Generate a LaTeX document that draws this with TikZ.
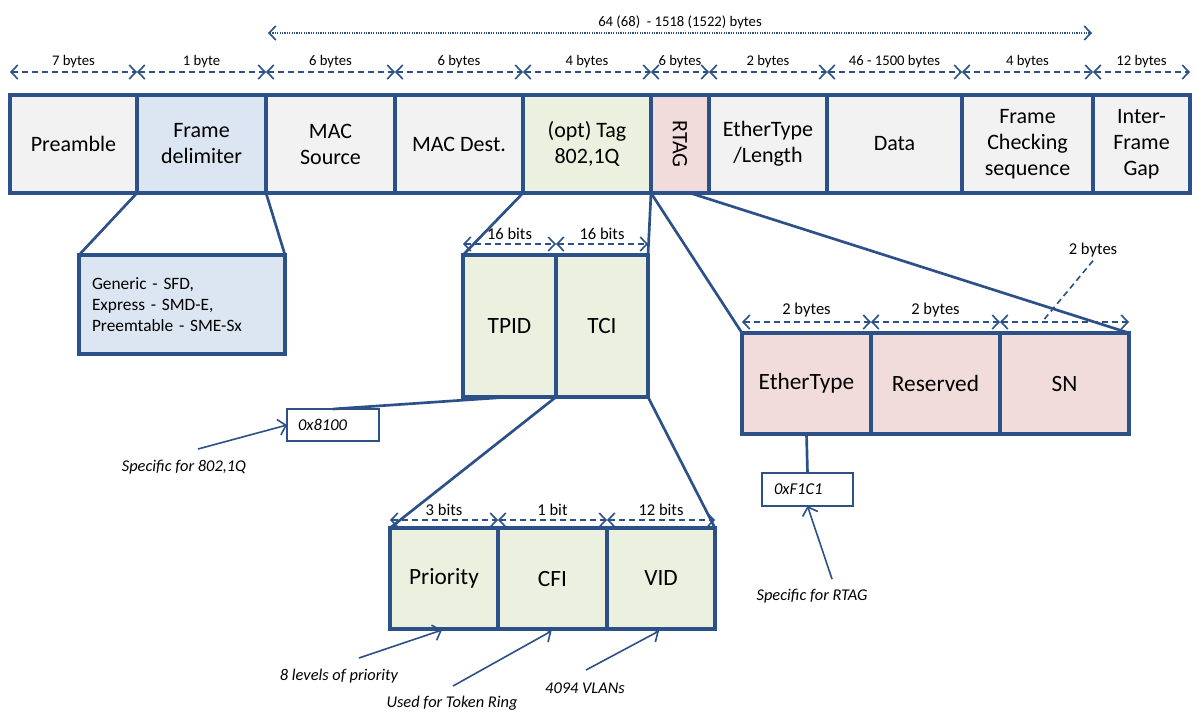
\documentclass[tikz,border=0pt]{standalone}
\usepackage{fontspec}
\usepackage{graphicx}
\setmainfont{Carlito}
\usetikzlibrary{arrows.meta,calc}
\definecolor{ln}{HTML}{2C5088}
\definecolor{cgray}{HTML}{F2F2F2}
\definecolor{cblue}{HTML}{DCE6F2}
\definecolor{cgreen}{HTML}{EBF1DE}
\definecolor{cpink}{HTML}{F2DCDB}
\begin{document}
\begin{tikzpicture}[x=0.75pt,y=-0.75pt,
  bx/.style 2 args={draw=ln, line width=2.3pt, minimum width=#1*0.75pt, minimum height=#2*0.75pt, inner sep=0pt, outer sep=0pt, align=center},
  mainlbl/.style={font=\fontsize{16.5}{19.5}\selectfont},
  sublbl/.style={font=\fontsize{17.5}{20}\selectfont},
  link/.style={draw=ln, line width=2pt},
  barb/.tip={Straight Barb[length=5pt,width=10.5pt,line width=1.2pt]},
  dimarr/.style={draw=ln, line width=1.2pt, dash pattern=on 4.5pt off 3pt, barb-barb},
  bigarr/.style={draw=ln, line width=1.1pt, dash pattern=on 0.9pt off 0.9pt, barb-barb},
  toplbl/.style={font=\fontsize{11}{13}\selectfont, inner sep=2.5pt},
  sublb/.style={font=\fontsize{12.4}{14}\selectfont, inner sep=2.5pt},
  note/.style={font=\fontsize{12.3}{14}\selectfont\itshape, inner sep=0pt},
  lead/.style={draw=ln, line width=1.2pt, -{Straight Barb[length=5.5pt,width=12pt,line width=1.2pt]}},
  valbox/.style 2 args={draw=ln, line width=1.1pt, minimum width=#1*0.75pt, minimum height=#2*0.75pt, inner sep=0pt, outer sep=0pt, font=\fontsize{12.4}{14}\selectfont\itshape},
]
\fill[white] (0,0) rectangle (1202,715);
\useasboundingbox (0,0) rectangle (1202,715);

% main frame row
\node[bx={127}{98}, fill=cgray, mainlbl] (pre) at (73.5,144) {Preamble};
\node[bx={129}{98}, fill=cblue, mainlbl] (sfd) at (201.5,144) {Frame\\delimiter};
\node[bx={129}{98}, fill=cgray, mainlbl] (src) at (330.5,144) {MAC\\Source};
\node[bx={128}{98}, fill=cgray, mainlbl] (dst) at (459,144) {MAC Dest.};
\node[bx={128}{98}, fill=cgreen, mainlbl] (tag) at (587,144) {(opt) Tag\\802,1Q};
\node[bx={58}{98}, fill=cpink, mainlbl] (rtag) at (680,144) {\rotatebox{-90}{RTAG}};
\node[bx={118}{98}, fill=cgray, mainlbl] (etl) at (768,144) {EtherType\\/Length};
\node[bx={135}{98}, fill=cgray, mainlbl] (data) at (894.5,144) {Data};
\node[bx={131}{98}, fill=cgray, mainlbl] (fcs) at (1027.5,144) {Frame\\Checking\\sequence};
\node[bx={97}{98}, fill=cgray, mainlbl] (ifg) at (1141.5,144) {Inter-\\Frame\\Gap};

% top dimension arrows
\foreach \n/\t in {pre/7 bytes, sfd/1 byte, src/6 bytes, dst/6 bytes, tag/4 bytes, rtag/6 bytes, etl/2 bytes, data/46 - 1500 bytes, fcs/4 bytes, ifg/12 bytes}{
  \draw[dimarr] ($(\n.north west)+(0,-23)$) -- ($(\n.north east)+(0,-23)$) node[midway, above, toplbl] {\t};
}
\draw[bigarr] ($(src.north west)+(2,-62)$) -- ($(fcs.north east)+(-1,-62)$) node[midway, above, toplbl] {64 (68)~ - 1518 (1522) bytes};

% frame delimiter detail
\node[bx={206}{99}, fill=cblue, line width=3pt, font=\fontsize{13}{15.75}\selectfont, align=left, text width=180*0.75pt] (sfdd) at (182,304.5) {Generic - SFD,\\Express - SMD-E,\\Preemtable - SME-Sx};
\draw[link] (sfd.south west) -- (sfdd.north west);
\draw[link] (sfd.south east) -- (sfdd.north east);

% 802.1Q tag detail
\node[bx={93}{142}, fill=cgreen, sublbl] (tpid) at (509.5,326) {TPID};
\node[bx={92}{142}, fill=cgreen, sublbl] (tci) at (602,326) {TCI};
\draw[link] (tag.south west) -- (tpid.north west);
\draw[link] (tag.south east) -- (tci.north east);
\foreach \n in {tpid, tci}{
  \draw[dimarr] ($(\n.north west)+(0,-11)$) -- ($(\n.north east)+(0,-11)$) node[midway, above, sublb] {16 bits};
}
\node[valbox={92}{32}, align=left, text width=70*0.75pt] (x8100) at (333,425) {0x8100};
\draw[link] (x8100.north) -- (tpid.south);
\node[note] (spec1) at (184,467) {Specific for 802,1Q};
\coordinate (s1) at (198,449);
\draw[lead] (s1) -- (x8100.west);

% TCI detail
\node[bx={108}{101}, fill=cgreen, sublbl] (prio) at (444,578.5) {Priority};
\node[bx={109}{101}, fill=cgreen, sublbl] (cfi) at (552.5,578.5) {CFI};
\node[bx={108}{101}, fill=cgreen, sublbl] (vid) at (661,578.5) {VID};
\draw[link] (tci.south west) -- (prio.north west);
\draw[link] (tci.south east) -- (vid.north east);
\foreach \n/\t in {prio/3 bits, cfi/1 bit, vid/12 bits}{
  \draw[dimarr] ($(\n.north west)+(0,-8)$) -- ($(\n.north east)+(0,-8)$) node[midway, above, sublb] {\t};
}
\node[note] (n1) at (339,676) {8 levels of priority};
\node[note] (n2) at (452,703) {Used for Token Ring};
\node[note] (n3) at (585,688) {4094 VLANs};
\coordinate (p1) at (359,658);
\coordinate (p2) at (453,686);
\coordinate (p3) at (586,670);
\draw[lead] (p1) -- ($(prio.south)+(-2,1)$);
\draw[lead] (p2) -- ($(cfi.south)+(-1,2)$);
\draw[lead] (p3) -- ($(vid.south)+(-2,2)$);

% RTAG detail
\node[bx={129}{101}, fill=cpink, sublbl] (reth) at (806.5,383.5) {EtherType};
\node[bx={129}{101}, fill=cpink, sublbl] (rres) at (935.5,383.5) {Reserved};
\node[bx={129}{101}, fill=cpink, sublbl] (rsn) at (1064.5,383.5) {SN};
\draw[link] (tag.south east) -- (reth.north west);
\draw[link] ($(rtag.south)+(10,0)$) -- (rsn.north east);
\foreach \n in {reth, rres, rsn}{
  \draw[dimarr] ($(\n.north west)+(0,-11)$) -- ($(\n.north east)+(0,-11)$);
}
\node[sublb] (lb1) at (806.5,310) {2 bytes};
\node[sublb] (lb2) at (935.5,310) {2 bytes};
\node[sublb] (lb3) at (1093,250) {2 bytes};
\coordinate (c3) at (1042,322);
\draw[draw=ln, line width=1.2pt, dash pattern=on 4.5pt off 3pt] (lb3.south) -- (c3);
\node[valbox={91}{33}, align=left, text width=67*0.75pt] (f1c1) at (807.5,489.5) {0xF1C1};
\draw[link] (reth.south) -- (f1c1.north);
\node[note] (spec2) at (812,596) {Specific for RTAG};
\coordinate (s2) at (832,579);
\draw[lead] (s2) -- (f1c1.south);
\end{tikzpicture}
\end{document}
